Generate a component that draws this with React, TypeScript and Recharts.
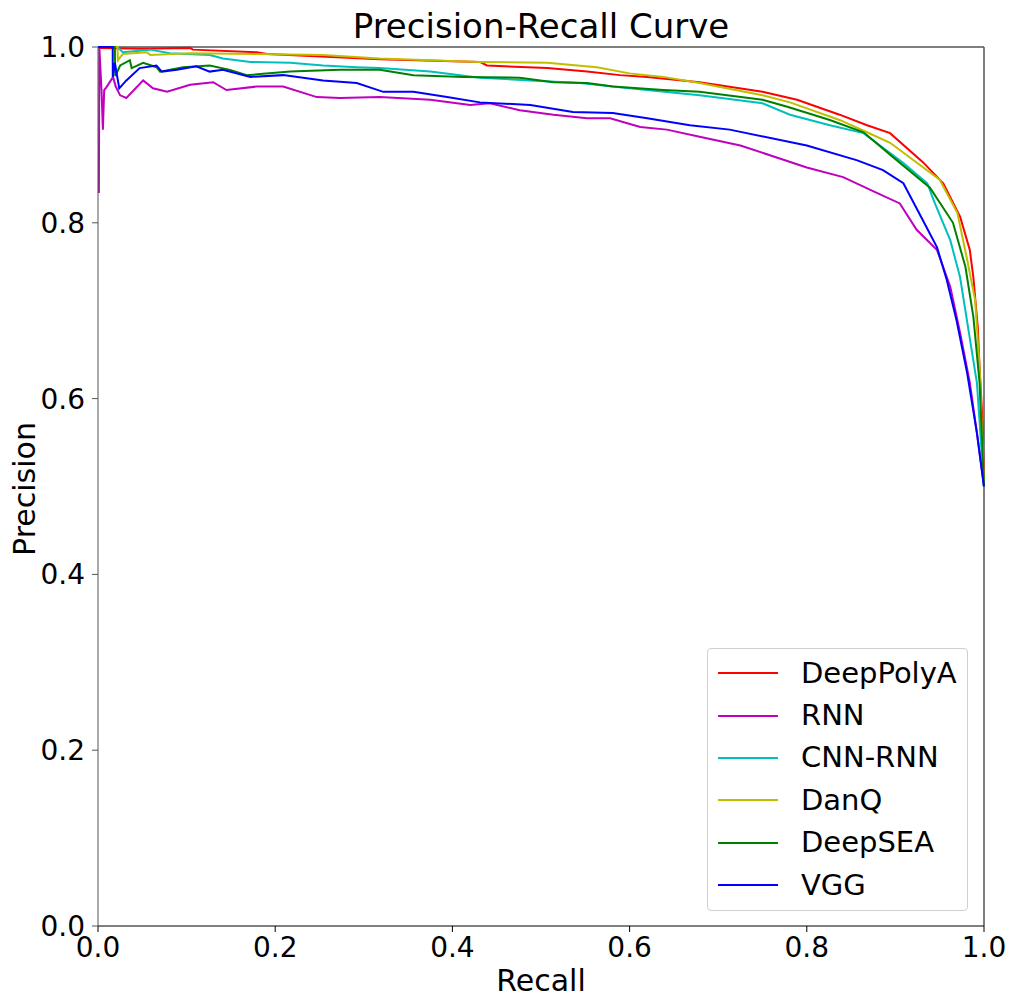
import { Legend, Line, LineChart, ReferenceLine, XAxis, YAxis } from "recharts";

const FONT = "DejaVu Sans";

// recall / precision
const deepPolyARecall = [0, 0.003, 0.05, 0.104, 0.107, 0.179, 0.191, 0.318, 0.431, 0.439, 0.507, 0.552, 0.589, 0.62, 0.679, 0.75, 0.789, 0.837, 0.868, 0.894, 0.931, 0.954, 0.973, 0.984, 0.988, 0.993, 0.995, 0.998, 1.0];
const deepPolyAPrecision = [1.0, 0.999, 0.998, 0.999, 0.997, 0.994, 0.992, 0.986, 0.983, 0.979, 0.976, 0.972, 0.968, 0.966, 0.96, 0.949, 0.94, 0.923, 0.911, 0.902, 0.869, 0.845, 0.807, 0.769, 0.738, 0.681, 0.636, 0.58, 0.5];

const rnnRecall = [0.001, 0.0015, 0.004, 0.0055, 0.007, 0.01, 0.017, 0.02, 0.025, 0.032, 0.051, 0.062, 0.078, 0.104, 0.13, 0.145, 0.179, 0.209, 0.247, 0.273, 0.318, 0.375, 0.42, 0.442, 0.476, 0.514, 0.552, 0.578, 0.612, 0.642, 0.679, 0.725, 0.8, 0.841, 0.879, 0.905, 0.924, 0.947, 0.962, 0.973, 0.984, 0.992, 1.0];
const rnnPrecision = [0.834, 1.0, 0.95, 0.906, 0.951, 0.955, 0.966, 0.955, 0.945, 0.942, 0.962, 0.953, 0.949, 0.957, 0.96, 0.951, 0.955, 0.955, 0.943, 0.942, 0.943, 0.94, 0.934, 0.936, 0.928, 0.923, 0.919, 0.919, 0.909, 0.906, 0.898, 0.888, 0.863, 0.852, 0.834, 0.822, 0.792, 0.769, 0.727, 0.675, 0.618, 0.561, 0.5];

const cnnRnnRecall = [0, 0.022, 0.028, 0.059, 0.081, 0.126, 0.141, 0.172, 0.217, 0.254, 0.292, 0.318, 0.375, 0.431, 0.488, 0.544, 0.6, 0.679, 0.75, 0.781, 0.826, 0.864, 0.909, 0.936, 0.943, 0.962, 0.973, 0.982, 0.992, 1.0];
const cnnRnnPrecision = [1.0, 1.0, 0.994, 0.997, 0.993, 0.991, 0.987, 0.983, 0.982, 0.979, 0.977, 0.976, 0.972, 0.965, 0.962, 0.959, 0.953, 0.945, 0.936, 0.923, 0.911, 0.902, 0.868, 0.845, 0.826, 0.78, 0.738, 0.681, 0.618, 0.5];

const danQRecall = [0, 0.022, 0.0225, 0.028, 0.055, 0.059, 0.104, 0.179, 0.254, 0.318, 0.431, 0.507, 0.563, 0.6, 0.638, 0.679, 0.75, 0.781, 0.837, 0.868, 0.894, 0.95, 0.97, 0.981, 0.99, 0.995, 1.0];
const danQPrecision = [1.0, 1.0, 0.985, 0.992, 0.994, 0.991, 0.993, 0.992, 0.991, 0.987, 0.983, 0.982, 0.977, 0.97, 0.966, 0.959, 0.945, 0.937, 0.917, 0.903, 0.891, 0.849, 0.811, 0.758, 0.712, 0.636, 0.5];

const deepSeaRecall = [0, 0.019, 0.0195, 0.025, 0.036, 0.038, 0.051, 0.066, 0.07, 0.096, 0.126, 0.149, 0.168, 0.217, 0.273, 0.318, 0.356, 0.412, 0.476, 0.514, 0.552, 0.581, 0.638, 0.679, 0.75, 0.778, 0.826, 0.864, 0.897, 0.939, 0.965, 0.979, 0.988, 0.995, 1.0];
const deepSeaPrecision = [1.0, 1.0, 0.967, 0.979, 0.985, 0.976, 0.982, 0.977, 0.972, 0.977, 0.979, 0.974, 0.968, 0.972, 0.974, 0.974, 0.968, 0.966, 0.965, 0.96, 0.959, 0.955, 0.951, 0.949, 0.94, 0.932, 0.917, 0.903, 0.875, 0.84, 0.8, 0.75, 0.693, 0.618, 0.5];

const vggRecall = [0, 0.0166, 0.0167, 0.019, 0.024, 0.032, 0.047, 0.066, 0.072, 0.089, 0.111, 0.126, 0.141, 0.172, 0.209, 0.254, 0.292, 0.322, 0.356, 0.394, 0.431, 0.488, 0.536, 0.581, 0.62, 0.668, 0.713, 0.8, 0.857, 0.886, 0.909, 0.931, 0.947, 0.958, 0.969, 0.981, 0.992, 1.0];
const vggPrecision = [1.0, 1.0, 0.966, 0.982, 0.953, 0.962, 0.976, 0.979, 0.972, 0.974, 0.978, 0.972, 0.974, 0.966, 0.968, 0.962, 0.959, 0.949, 0.949, 0.943, 0.937, 0.934, 0.926, 0.925, 0.919, 0.911, 0.906, 0.888, 0.871, 0.86, 0.845, 0.803, 0.772, 0.735, 0.689, 0.629, 0.561, 0.5];

const ticks = [0, 0.2, 0.4, 0.6, 0.8, 1.0];

const toRows = (recall: number[], precision: number[]) =>
  recall.map((r, i) => ({ r, p: precision[i] }));

const series = [
  { name: "DeepPolyA", color: "#ff0000", data: toRows(deepPolyARecall, deepPolyAPrecision) },
  { name: "RNN", color: "#bf00bf", data: toRows(rnnRecall, rnnPrecision) },
  { name: "CNN-RNN", color: "#00bfbf", data: toRows(cnnRnnRecall, cnnRnnPrecision) },
  { name: "DanQ", color: "#bfbf00", data: toRows(danQRecall, danQPrecision) },
  { name: "DeepSEA", color: "#008000", data: toRows(deepSeaRecall, deepSeaPrecision) },
  { name: "VGG", color: "#0000ff", data: toRows(vggRecall, vggPrecision) },
];

const LegendBox = () => (
  <div
    style={{
      boxSizing: "border-box",
      width: 261,
      height: 263,
      border: "1px solid #d0d0d0",
      borderRadius: 4,
      background: "rgba(255,255,255,0.8)",
      padding: "3px 0 0 10px",
      fontFamily: FONT,
      fontSize: 29,
      color: "#000",
    }}
  >
    {series.map((s) => (
      <div key={s.name} style={{ display: "flex", alignItems: "center", height: 42.4 }}>
        <div style={{ width: 60, height: 2, background: s.color, marginRight: 23 }} />
        <span style={{ lineHeight: 1 }}>{s.name}</span>
      </div>
    ))}
  </div>
);

const App = () => {
  const tickStyle = { fontFamily: FONT, fontSize: 28, fill: "#000" };
  return (
    <div style={{ position: "absolute", left: 0, top: 0, width: 1013, height: 998, background: "#fff" }}>
      <LineChart
        width={1013}
        height={998}
        margin={{ top: 47, right: 29, left: 38, bottom: 42 }}
      >
        <XAxis
          dataKey="r"
          type="number"
          domain={[0, 1]}
          ticks={ticks}
          tickFormatter={(v: number) => v.toFixed(1)}
          allowDuplicatedCategory={false}
          stroke="#000"
          tick={tickStyle}
          tickSize={6}
          tickMargin={5}
          height={30}
        />
        <YAxis
          dataKey="p"
          type="number"
          domain={[0, 1]}
          ticks={ticks}
          tickFormatter={(v: number) => v.toFixed(1)}
          stroke="#555"
          tick={tickStyle}
          tickSize={6}
          tickMargin={7}
          width={60}
        />
        <ReferenceLine y={1} stroke="#555" strokeWidth={1.5} />
        <ReferenceLine x={1} stroke="#555" strokeWidth={1.5} />
        {series.map((s) => (
          <Line
            key={s.name}
            data={s.data}
            dataKey="p"
            name={s.name}
            type="linear"
            stroke={s.color}
            strokeWidth={2}
            dot={false}
            isAnimationActive={false}
          />
        ))}
        <Legend
          layout="vertical"
          align="center"
          verticalAlign="middle"
          content={() => <LegendBox />}
          wrapperStyle={{ left: 707, top: 648, width: 261, height: 263 }}
        />
      </LineChart>
      <svg
        width={1013}
        height={998}
        style={{ position: "absolute", left: 0, top: 0, pointerEvents: "none" }}
      >
        <text x={541} y={38} textAnchor="middle" fontFamily={FONT} fontSize={34} fill="#000">
          Precision-Recall Curve
        </text>
        <text x={541} y={991} textAnchor="middle" fontFamily={FONT} fontSize={30} fill="#000">
          Recall
        </text>
        <text
          x={0}
          y={0}
          transform="translate(35 489) rotate(-90)"
          textAnchor="middle"
          fontFamily={FONT}
          fontSize={30}
          fill="#000"
        >
          Precision
        </text>
      </svg>
    </div>
  );
};

export default App;
